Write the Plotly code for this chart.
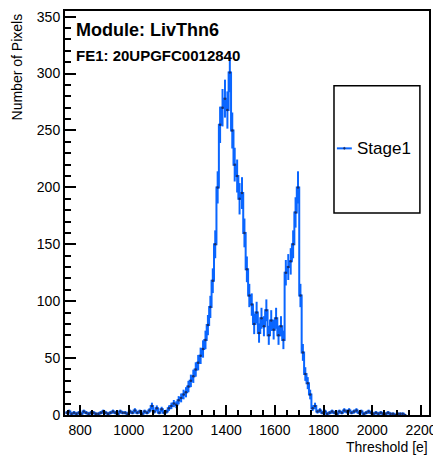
import numpy as np
import plotly.graph_objects as go

# Histogram: bin centres (threshold [e]) and counts
bin_width = 10
bin_centers = list(range(745, 2145, 10))
counts = [
    2, 3, 1, 2, 1, 2, 1, 3, 2, 1,      # 745-835
    2, 2, 1, 1, 2, 3, 2, 1, 2, 3,      # 845-935
    2, 1, 3, 2, 2, 1, 3, 2, 4, 2,      # 945-1035
    3, 1, 3, 2, 4, 8, 3, 6, 2, 5,      # 1045-1135
    2, 3, 6, 8, 10, 9, 13, 15, 18, 20, # 1145-1235
    25, 30, 34, 40, 46, 52, 58, 66, 79, 95,   # 1245-1335
    118, 150, 200, 255, 270, 278, 268, 301, 250, 220,  # 1345-1435
    210, 190, 195, 160, 128, 105, 97, 80, 90, 72,      # 1445-1535
    85, 78, 92, 70, 83, 75, 85, 70, 78, 66,            # 1545-1635
    125, 130, 135, 150, 178, 200, 105, 55, 36, 28,     # 1645-1735
    18, 6, 8, 3, 4, 2, 3, 1, 2, 3,                     # 1745-1835
    2, 1, 3, 2, 4, 3, 4, 2, 3, 4,                      # 1845-1935
    2, 3, 1, 2, 3, 2, 1, 2, 1, 2,                      # 1945-2035
    1, 1, 2, 1, 1, 0, 1, 1, 1, 0,                      # 2045-2135
]
errors = list(np.sqrt(np.array(counts, dtype=float)))

series_name = "Stage1"
title_main = "Module: LivThn6"
title_sub = "FE1: 20UPGFC0012840"
x_title = "Threshold [e]"
y_title = "Number of Pixels"

blue = "#0a66ff"
dot = "#1a2f6a"

fig = go.Figure()
# step outline connecting the bins
fig.add_trace(go.Scatter(
    x=bin_centers[:len(counts)], y=counts, mode="lines", line_shape="hvh",
    line=dict(color=blue, width=2), showlegend=False, hoverinfo="skip",
))
# bins with error bars and markers
fig.add_trace(go.Scatter(
    x=bin_centers[:len(counts)], y=counts, mode="markers", name=series_name,
    marker=dict(size=2.5, color=dot),
    error_y=dict(type="data", array=errors, visible=True, color=blue, thickness=2, width=0),
    error_x=dict(type="constant", value=bin_width / 2, visible=True, color=blue, thickness=2, width=0),
    showlegend=False,
))

font_family = "Liberation Sans, Arial, sans-serif"

# the page body adds an 8px margin, so the figure is sized to fit the window
fig.update_layout(
    width=433, height=449,
    margin=dict(l=57, r=12, t=1, b=42),
    plot_bgcolor="white", paper_bgcolor="white",
    font=dict(family=font_family, color="black", size=14),
    xaxis=dict(
        range=[738, 2233], showgrid=False, zeroline=False,
        showline=True, linecolor="black", linewidth=2, mirror=True,
        ticks="inside", ticklen=10, tickwidth=2, tickcolor="black",
        tick0=0, dtick=200, tickfont=dict(size=14), ticklabelstandoff=1,
        minor=dict(ticks="inside", ticklen=5, tickwidth=1.5, tickcolor="black", dtick=50, showgrid=False),
    ),
    yaxis=dict(
        range=[0, 355], showgrid=False, zeroline=False,
        showline=True, linecolor="black", linewidth=2, mirror=True,
        ticks="inside", ticklen=11, tickwidth=2, tickcolor="black",
        tick0=0, dtick=50, tickfont=dict(size=14),
        minor=dict(ticks="inside", ticklen=6, tickwidth=1.5, tickcolor="black", dtick=10, showgrid=False),
    ),
)

# Axis titles (ROOT style: aligned to the end of the axis)
fig.add_annotation(text=y_title, xref="paper", yref="paper", x=-0.132, y=1.0,
                   xanchor="center", yanchor="top", textangle=-90, showarrow=False,
                   font=dict(size=14))
fig.add_annotation(text=x_title, xref="paper", yref="paper", x=1.003, y=-0.079,
                   xanchor="right", yanchor="middle", showarrow=False,
                   font=dict(size=14))

# Header texts
fig.add_annotation(text="<b>%s</b>" % title_main, xref="paper", yref="paper", x=0.026, y=0.953,
                   xanchor="left", yanchor="middle", showarrow=False, font=dict(size=18))
fig.add_annotation(text="<b>%s</b>" % title_sub, xref="paper", yref="paper", x=0.024, y=0.889,
                   xanchor="left", yanchor="middle", showarrow=False, font=dict(size=15))

# Legend box (ROOT TLegend)
fig.add_shape(type="rect", xref="paper", yref="paper", x0=0.739, x1=0.975, y0=0.5, y1=0.815,
              line=dict(color="black", width=1.5), fillcolor="white", layer="above")
fig.add_shape(type="line", xref="paper", yref="paper", x0=0.747, x1=0.788, y0=0.66, y1=0.66,
              line=dict(color=blue, width=2), layer="above")
fig.add_shape(type="circle", xref="paper", yref="paper", x0=0.765, x1=0.770, y0=0.6575, y1=0.6625,
              line=dict(color=dot, width=0.5), fillcolor=dot, layer="above")
fig.add_annotation(text=series_name, xref="paper", yref="paper", x=0.797, y=0.66,
                   xanchor="left", yanchor="middle", showarrow=False, font=dict(size=17))

fig.write_html("out.html")
